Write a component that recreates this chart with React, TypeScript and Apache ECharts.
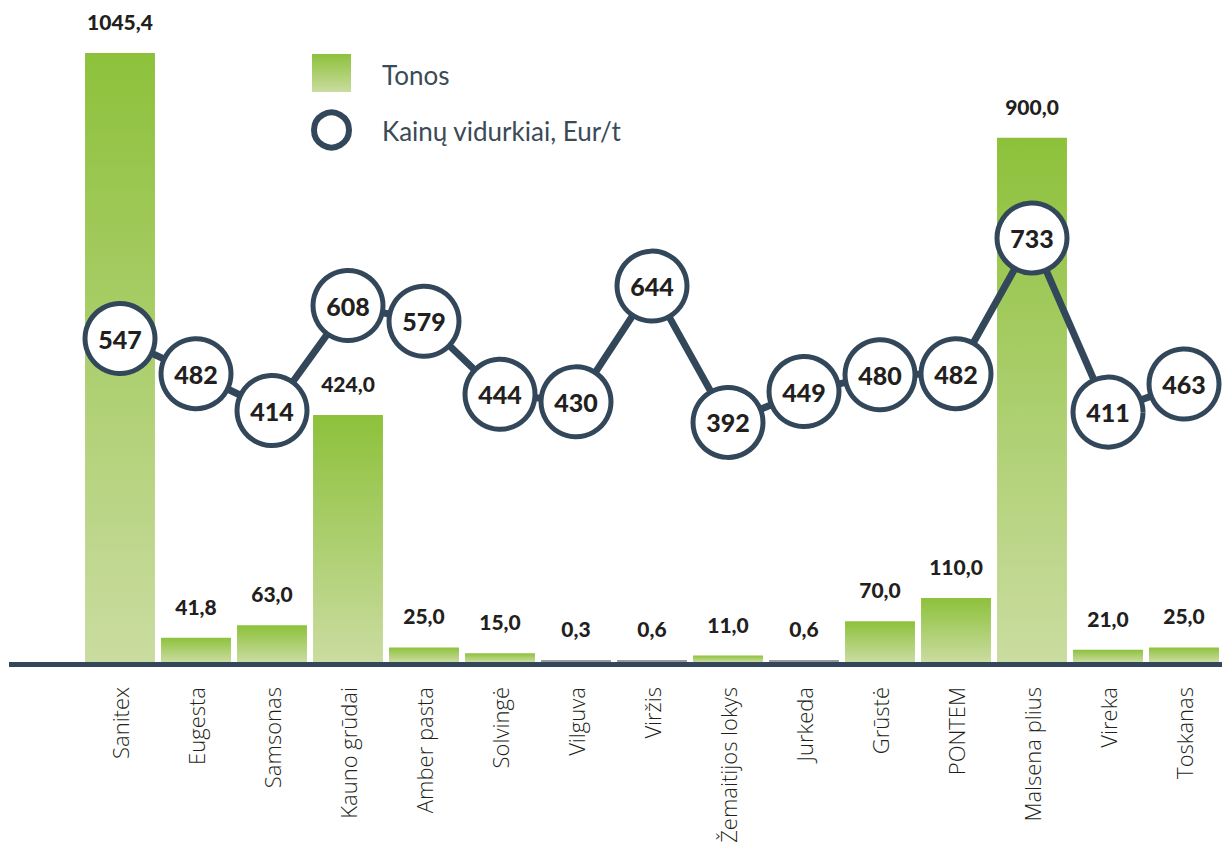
import React, { useEffect, useRef } from "react";
import * as echarts from "echarts";

const categories = [
  "Sanitex",
  "Eugesta",
  "Samsonas",
  "Kauno grūdai",
  "Amber pasta",
  "Solvingė",
  "Vilguva",
  "Viržis",
  "Žemaitijos lokys",
  "Jurkeda",
  "Grūstė",
  "PONTEM",
  "Malsena plius",
  "Vireka",
  "Toskanas",
];
const tonos = [1045.4, 41.8, 63.0, 424.0, 25.0, 15.0, 0.3, 0.6, 11.0, 0.6, 70.0, 110.0, 900.0, 21.0, 25.0];
const kainos = [547, 482, 414, 608, 579, 444, 430, 644, 392, 449, 480, 482, 733, 411, 463];
const legendNames = ["Tonos", "Kainų vidurkiai, Eur/t"];

const DARK = "#33475a";
const TEXT = "#231f20";
const greenGrad = () =>
  new echarts.graphic.LinearGradient(0, 0, 0, 1, [
    { offset: 0, color: "#8dc13b" },
    { offset: 1, color: "#cadca0" },
  ]);

export default function App() {
  const ref = useRef<HTMLDivElement>(null);
  useEffect(() => {
    if (!ref.current) return;
    const chart = echarts.init(ref.current, null, { renderer: "svg" });
    const option: any = {
      animation: false,
      backgroundColor: "#ffffff",
      grid: { left: 82, right: 0, top: 53, bottom: 196, containLabel: false, outerBoundsMode: "none" },
      xAxis: {
        type: "category",
        data: categories,
        axisLine: { show: false },
        axisTick: { show: false },
        axisLabel: {
          rotate: 90,
          interval: 0,
          margin: 25,
          fontSize: 22,
          fontFamily: "Open Sans",
          fontWeight: 300,
          color: TEXT,
        },
      },
      yAxis: [
        { type: "value", min: 0, max: "dataMax", show: false },
        { type: "value", min: -51, max: 1075, show: false },
      ],
      series: [
        {
          name: legendNames[0],
          type: "bar",
          data: tonos,
          barCategoryGap: "8%",
          barMinHeight: 2,
          itemStyle: {
            color: (p: any) => (p.value < 1 ? "#9a9a9a" : greenGrad()),
          },
          label: {
            show: true,
            position: "top",
            distance: 21,
            fontSize: 21,
            fontFamily: "Lato",
            fontWeight: 900,
            color: TEXT,
            formatter: (p: any) => Number(p.value).toFixed(1).replace(".", ","),
          },
          z: 2,
        },
        {
          name: legendNames[1],
          type: "line",
          yAxisIndex: 1,
          data: kainos,
          symbol: "circle",
          symbolSize: 70,
          lineStyle: { color: DARK, width: 7 },
          itemStyle: { color: "#ffffff", borderColor: DARK, borderWidth: 5 },
          label: {
            show: true,
            position: "inside",
            fontSize: 25,
            fontFamily: "Lato",
            fontWeight: 900,
            color: TEXT,
          },
          z: 5,
        },
      ],
      graphic: [
        {
          type: "line",
          shape: { x1: 9, y1: 664.5, x2: 1222, y2: 664.5 },
          style: { stroke: DARK, lineWidth: 5 },
          z: 10,
        },
        {
          type: "rect",
          shape: { x: 312, y: 54, width: 39, height: 38 },
          style: { fill: greenGrad() },
        },
        {
          type: "text",
          x: 382,
          y: 75,
          style: {
            text: legendNames[0],
            fontSize: 26,
            fontFamily: "Lato",
            fill: "#3b4a57",
            verticalAlign: "middle",
          },
        },
        {
          type: "circle",
          shape: { cx: 331.5, cy: 130, r: 17.5 },
          style: { fill: "#ffffff", stroke: DARK, lineWidth: 6 },
        },
        {
          type: "text",
          x: 382,
          y: 131,
          style: {
            text: legendNames[1],
            fontSize: 26,
            fontFamily: "Lato",
            fill: "#3b4a57",
            verticalAlign: "middle",
          },
        },
      ],
    };
    chart.setOption(option);
    return () => chart.dispose();
  }, []);
  return <div ref={ref} style={{ position: "absolute", left: 0, top: 0, width: 1222, height: 858 }} />;
}
